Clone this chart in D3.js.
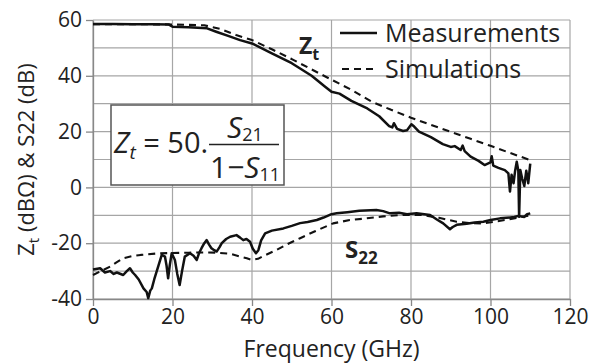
<!DOCTYPE html>
<html>
<head>
<meta charset="utf-8">
<script src="https://cdn.jsdelivr.net/npm/d3@7"></script>
<style>
  body { margin: 0; background: #fff; }
  svg { display: block; }
  text { font-family: "Open Sans", sans-serif; fill: #222; }
</style>
</head>
<body>
<svg id="chart"></svg>
<script>
// axis ticks
const freqTicks = [0, 20, 40, 60, 80, 100, 120];
const levelTicks = [-40, -20, 0, 20, 40, 60];
const levelGrid = [-40, -30, -20, -10, 0, 10, 20, 30, 40, 50, 60];

// Zt measured (freq GHz, dBOhm)
const ztMeasFreq = [0, 5, 10, 15, 19, 20, 24, 28.7, 31, 34, 37, 40, 45, 50, 55, 58.4, 60, 62, 65, 69, 72, 74.5, 75.3, 75.7, 76.5, 78, 79, 80.1, 80.8, 82, 85, 88, 90, 91, 92.5, 93, 93.5, 95, 97, 98.5, 100, 100.3, 100.7, 102, 103.6, 104.5, 104.9, 105.3, 105.8, 106.2, 106.6, 107, 107.2, 107.5, 108, 108.5, 109, 109.5, 110];
const ztMeasVal = [58.6, 58.6, 58.5, 58.5, 58.4, 57.6, 57.4, 57.0, 55.8, 54.3, 52.8, 51.6, 48.0, 44.5, 40.0, 36.1, 34.3, 33.6, 31.0, 28.3, 25.5, 22.0, 21.5, 23.0, 21.0, 20.2, 20.5, 22.6, 21.8, 20.0, 18.0, 15.5, 14.5, 14.8, 13.4, 15.0, 13.0, 11.0, 9.5, 8.0, 9.0, 11.2, 7.8, 7.0, 6.2, 5.0, -1.5, 4.5, 1.5, 6.0, 9.2, 6.0, -10.5, 6.2, 3.0, 0.5, 6.0, 1.5, 8.5];

// Zt simulated
const ztSimFreq = [0, 10, 20, 28, 32, 36, 40, 45, 50, 55, 60, 65, 70, 75, 80, 85, 90, 95, 100, 105, 110];
const ztSimVal = [58.5, 58.5, 58.4, 58.1, 56.8, 54.6, 52.8, 49.5, 46.0, 42.3, 38.6, 35.0, 30.8, 27.8, 25.0, 22.4, 19.9, 17.4, 14.9, 12.3, 9.8];

// S22 measured (dB)
const s22MeasFreq = [0, 1.8, 3, 4.3, 5.2, 6, 7.6, 8.5, 9.3, 10, 10.6, 11.5, 12.7, 13.5, 13.9, 14.4, 14.8, 15.4, 16, 16.7, 17.3, 18.1, 18.5, 18.9, 19.3, 19.8, 20.6, 21.2, 21.8, 22.4, 23.1, 24.4, 25.3, 26.1, 26.7, 27.3, 28, 28.6, 29.2, 29.8, 30.5, 31.1, 31.8, 32.4, 33.5, 34.5, 36.1, 37, 37.8, 38.6, 39.5, 40.2, 41, 41.6, 42.3, 43.3, 45, 47.9, 50, 52.1, 54, 56.3, 58, 60, 61.3, 64, 67, 71.3, 73, 74.7, 77, 79, 81.4, 84.8, 86.5, 88.1, 89.8, 90.5, 91.5, 94, 96, 98.2, 100, 102.4, 104, 106, 107, 108.5, 109.2, 110];
const s22MeasVal = [-29.4, -29, -30.5, -30, -31, -30.5, -31.4, -30, -29, -30.5, -31.4, -33, -36.2, -37.5, -39.7, -37, -36.2, -33, -30.2, -27, -24.2, -24.8, -28, -32.6, -28, -23.6, -26, -31, -35, -30, -24.8, -23.6, -24.5, -26, -23.5, -21.8, -20, -18.9, -20.5, -21.8, -22.5, -23, -21.5, -20, -18.5, -17.7, -17.1, -18, -18.9, -18.5, -19.5, -22, -23.6, -22.5, -19, -16.5, -15.5, -14.7, -13.8, -12.8, -12.4, -11.7, -10.8, -9.6, -9.3, -8.9, -8.4, -8.1, -8.5, -9.3, -9.1, -9.6, -9.3, -9.9, -11.5, -12.9, -15, -14.2, -13.4, -13, -12.6, -12.3, -11.7, -11.1, -10.9, -10.6, -10.2, -10.6, -9.6, -9.3];

// S22 simulated
const s22SimFreq = [0, 2, 4.3, 6, 7.6, 10, 12, 16, 20, 24, 28, 31, 34.5, 37, 38.7, 40, 41.5, 43, 46.2, 49, 52.1, 56, 60.4, 64.6, 68.8, 73, 77.2, 83.1, 87, 91.5, 95, 98.2, 101, 104, 107, 110];
const s22SimVal = [-31.4, -30, -28.4, -26.8, -25.4, -24.6, -24.2, -23.7, -23.5, -23.4, -23.3, -23.4, -23.8, -24.8, -25.4, -26, -25.6, -24.5, -22.4, -20.3, -18.2, -15.6, -12.9, -11.7, -11.1, -10.4, -9.9, -9.9, -10.9, -12.3, -12.8, -12.9, -12.3, -11.6, -10.8, -10];

const width = 600, height = 363;
const marginLeft = 93, marginRight = 30, marginTop = 20, marginBottom = 64;

const svg = d3.select("#chart").attr("width", width).attr("height", height);

const x = d3.scaleLinear().domain([0, 120]).range([marginLeft, width - marginRight]);
const y = d3.scaleLinear().domain([-40, 60]).range([height - marginBottom, marginTop]);

// grid
svg.append("g").attr("stroke", "#a6a6a6").attr("stroke-width", 1.2)
  .selectAll("line.h").data(levelGrid).join("line")
  .attr("x1", x(0)).attr("x2", x(120))
  .attr("y1", d => y(d)).attr("y2", d => y(d));
svg.append("g").attr("stroke", "#a6a6a6").attr("stroke-width", 1.2)
  .selectAll("line.v").data(freqTicks).join("line")
  .attr("x1", d => x(d)).attr("x2", d => x(d))
  .attr("y1", y(-40)).attr("y2", y(60));

// axes
const yAxis = svg.append("g")
  .attr("transform", `translate(${marginLeft},0)`)
  .call(d3.axisLeft(y).tickValues(levelTicks).tickSize(7).tickSizeOuter(0).tickPadding(4).tickFormat(d => String(d)));
const xAxis = svg.append("g")
  .attr("transform", `translate(0,${y(-40)})`)
  .call(d3.axisBottom(x).tickValues(freqTicks).tickSize(7).tickSizeOuter(0).tickPadding(3).tickFormat(d => String(d)));
[yAxis, xAxis].forEach(g => {
  g.select(".domain").attr("stroke", "#888").attr("stroke-width", 1.3);
  g.selectAll(".tick line").attr("stroke", "#888").attr("stroke-width", 1.3);
  g.selectAll(".tick text").attr("font-family", "Open Sans").attr("font-size", 21).attr("fill", "#222");
});

// curves
const line = d3.line().x(d => x(d[0])).y(d => y(d[1]));
const curves = [
  { f: ztSimFreq, v: ztSimVal, dash: "7,5", w: 2.1 },
  { f: s22SimFreq, v: s22SimVal, dash: "7,5", w: 2.1 },
  { f: ztMeasFreq, v: ztMeasVal, dash: null, w: 2.5 },
  { f: s22MeasFreq, v: s22MeasVal, dash: null, w: 2.5 }
];
svg.append("g").selectAll("path").data(curves).join("path")
  .attr("d", c => line(c.f.map((f, i) => [f, c.v[i]])))
  .attr("fill", "none")
  .attr("stroke", "#111")
  .attr("stroke-width", c => c.w)
  .attr("stroke-linejoin", "round")
  .attr("stroke-dasharray", c => c.dash);

// legend
const legend = svg.append("g");
legend.append("line").attr("x1", 340).attr("x2", 377).attr("y1", 33).attr("y2", 33)
  .attr("stroke", "#111").attr("stroke-width", 2.5);
legend.append("line").attr("x1", 342).attr("x2", 378).attr("y1", 69).attr("y2", 69)
  .attr("stroke", "#111").attr("stroke-width", 2.1).attr("stroke-dasharray", "7,5");
legend.append("text").attr("x", 385).attr("y", 42).attr("font-size", 25).text("Measurements");
legend.append("text").attr("x", 385).attr("y", 78).attr("font-size", 25).text("Simulations");

// curve labels
const zt = svg.append("text").attr("x", 299).attr("y", 54).attr("font-size", 23).attr("font-weight", "bold");
zt.append("tspan").text("Z");
zt.append("tspan").attr("dy", 6).attr("font-size", 16).text("t");
const s22 = svg.append("text").attr("x", 345).attr("y", 258).attr("font-size", 24).attr("font-weight", "bold");
s22.append("tspan").text("S");
s22.append("tspan").attr("dy", 6).attr("font-size", 17).text("22");

// formula box
const box = svg.append("g");
box.append("rect").attr("x", 111).attr("y", 105).attr("width", 173).attr("height", 80)
  .attr("fill", "#fff").attr("stroke", "#555").attr("stroke-width", 1.5);
const serif = "Liberation Serif, Times New Roman, serif";
const lhs = box.append("text").attr("x", 114).attr("y", 153).attr("font-family", serif).attr("font-size", 29);
lhs.append("tspan").attr("font-style", "italic").text("Z");
lhs.append("tspan").attr("font-style", "italic").attr("dy", 6).attr("font-size", 19).text("t");
lhs.append("tspan").attr("dy", -6).text(" = 50.");
const num = box.append("text").attr("x", 227).attr("y", 138).attr("font-family", serif).attr("font-size", 30);
num.append("tspan").attr("font-style", "italic").text("S");
num.append("tspan").attr("dy", 3).attr("font-size", 18).text("21");
box.append("line").attr("x1", 209).attr("x2", 279).attr("y1", 144.5).attr("y2", 144.5)
  .attr("stroke", "#222").attr("stroke-width", 1.5);
const den = box.append("text").attr("x", 210).attr("y", 178).attr("font-family", serif).attr("font-size", 30);
den.append("tspan").text("1\u2212");
den.append("tspan").attr("font-style", "italic").text("S");
den.append("tspan").attr("dy", 3).attr("font-size", 18).text("11");

// axis titles
svg.append("text").attr("x", x(60)).attr("y", 357).attr("text-anchor", "middle")
  .attr("font-size", 23).text("Frequency (GHz)");
const yt = svg.append("text").attr("transform", `translate(34,${y(10)}) rotate(-90)`)
  .attr("text-anchor", "middle").attr("font-size", 22);
yt.append("tspan").text("Z");
yt.append("tspan").attr("dy", 5).attr("font-size", 15).text("t");
yt.append("tspan").attr("dy", -5).text(" (dB\u03A9) & S22 (dB)");
</script>
</body>
</html>
